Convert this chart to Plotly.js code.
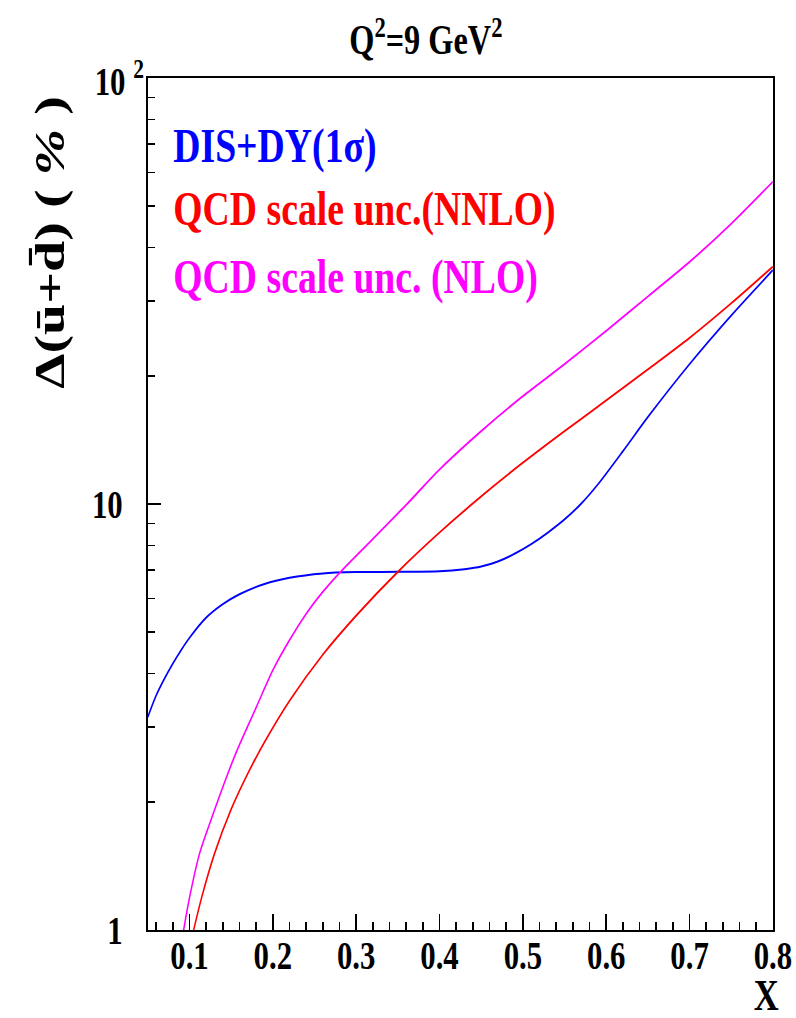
<!DOCTYPE html>
<html>
<head>
<meta charset="utf-8">
<script src="https://cdn.plot.ly/plotly-3.0.1.min.js"></script>
<style>
  html, body { margin: 0; padding: 0; background: #fff; }
  #wrap { width: 796px; height: 1018px; overflow: hidden; }
  /* the figure is laid out wider and squeezed horizontally, giving the tall, narrow serif look */
  #plot { width: 1034px; height: 1018px; transform: scaleX(0.76983); transform-origin: 0 0; }
</style>
</head>
<body>
<div id="wrap"><div id="plot"></div></div>
<script>
// Relative uncertainty of (ubar + dbar) in percent at Q^2 = 9 GeV^2
const xDisDy = [0.05, 0.06, 0.07, 0.08, 0.09, 0.10, 0.12, 0.14, 0.16, 0.19, 0.22, 0.26, 0.30, 0.35, 0.40, 0.43, 0.45, 0.47, 0.49, 0.51, 0.53, 0.55, 0.57, 0.59, 0.62, 0.65, 0.70, 0.75, 0.80];
const errDisDy = [3.16, 3.55, 3.89, 4.22, 4.54, 4.85, 5.41, 5.82, 6.14, 6.49, 6.71, 6.87, 6.92, 6.93, 6.95, 7.03, 7.13, 7.33, 7.64, 8.05, 8.57, 9.20, 10.02, 11.12, 13.3, 16.0, 21.3, 27.7, 35.4];

const xNnlo = [0.095, 0.105, 0.115, 0.13, 0.15, 0.17, 0.19, 0.22, 0.26, 0.30, 0.35, 0.40, 0.45, 0.50, 0.55, 0.60, 0.65, 0.70, 0.75, 0.80];
const errNnlo = [0.82, 1.0, 1.20, 1.51, 1.92, 2.33, 2.76, 3.45, 4.43, 5.47, 6.93, 8.57, 10.42, 12.5, 14.83, 17.5, 20.7, 24.55, 29.6, 36.1];

const xNlo = [0.088, 0.093, 0.10, 0.112, 0.127, 0.145, 0.157, 0.18, 0.20, 0.22, 0.241, 0.26, 0.28, 0.32, 0.361, 0.40, 0.45, 0.50, 0.55, 0.60, 0.65, 0.70, 0.75, 0.80];
const errNlo = [0.875, 1.0, 1.19, 1.51, 1.84, 2.30, 2.64, 3.33, 4.07, 4.79, 5.56, 6.22, 6.89, 8.28, 10.0, 12.05, 14.83, 17.91, 21.3, 25.5, 30.7, 37.0, 45.5, 57.1];

const seriesNames = ['DIS+DY(1σ)', 'QCD scale unc.(NNLO)', 'QCD scale unc. (NLO)'];
const seriesColors = ['#0000ff', '#ff0000', '#ff00ff'];

const xTickVals = [0.1, 0.2, 0.3, 0.4, 0.5, 0.6, 0.7, 0.8];
const xTickText = ['0.1', '0.2', '0.3', '0.4', '0.5', '0.6', '0.7', '0.8'];
const yTickVals = [1, 10, 100];
const yTickText = ['1', '10', ''];
const yMinorVals = [2, 3, 4, 5, 6, 7, 8, 9, 20, 30, 40, 50, 60, 70, 80, 90];

const serif = 'Liberation Serif, Times New Roman, serif';

const xs = [xDisDy, xNnlo, xNlo];
const ys = [errDisDy, errNnlo, errNlo];
const traces = xs.map((x, i) => ({
  x: x, y: ys[i], type: 'scatter', mode: 'lines', name: seriesNames[i],
  line: { color: seriesColors[i], width: 2, shape: 'spline', smoothing: 0.8 },
  showlegend: false
}));

// legend-style labels inside the frame
const legendY = [0.921, 0.847, 0.767];
const annotations = seriesNames.map((t, i) => ({
  text: t, xref: 'paper', yref: 'paper', x: 0.038, y: legendY[i],
  xanchor: 'left', yanchor: 'middle', showarrow: false,
  font: { family: serif, size: 49, color: seriesColors[i], weight: 700 }
}));

annotations.push({
  text: 'Δ(ū+d̄) ( <i>%</i> )', textangle: -90,
  xref: 'paper', yref: 'paper', x: -0.158, y: 0.8075,
  xanchor: 'center', yanchor: 'middle', showarrow: false,
  font: { family: serif, size: 56, color: '#000', weight: 700 }
});
annotations.push({
  text: 'X', xref: 'paper', yref: 'paper', x: 0.989, y: -0.0763,
  xanchor: 'center', yanchor: 'middle', showarrow: false,
  font: { family: serif, size: 45, color: '#000', weight: 700 }
});
annotations.push({
  text: '10 <sup>2</sup>', xref: 'paper', yref: 'y', x: -0.004, y: Math.log10(yTickVals[2]),
  xanchor: 'right', yanchor: 'middle', showarrow: false,
  font: { family: serif, size: 40, color: '#000', weight: 700 }
});

const layout = {
  width: 1034, height: 1018,
  margin: { l: 192, r: 30, t: 78, b: 88 },
  paper_bgcolor: '#fff', plot_bgcolor: '#fff',
  title: {
    text: 'Q<sup>2</sup>=9 GeV<sup>2</sup>',
    xref: 'container', yref: 'container', x: 0.535, y: 0.961,
    xanchor: 'center', yanchor: 'middle',
    font: { family: serif, size: 42, color: '#000', weight: 700 }
  },
  xaxis: {
    range: [0.05, 0.8], showgrid: false, zeroline: false,
    showline: true, linecolor: '#000', linewidth: 2, mirror: true,
    tickmode: 'array', tickvals: xTickVals, ticktext: xTickText,
    ticks: 'inside', ticklen: 16, tickwidth: 2, tickcolor: '#000',
    ticklabelstandoff: -11,
    tickfont: { family: serif, size: 40, color: '#000', weight: 700 },
    minor: { tick0: 0, dtick: 0.02, ticks: 'inside', ticklen: 8, tickwidth: 2, tickcolor: '#000', showgrid: false },
    automargin: false
  },
  yaxis: {
    type: 'log', range: [0, 2], showgrid: false, zeroline: false,
    showline: true, linecolor: '#000', linewidth: 2.6, mirror: true,
    tickmode: 'array', tickvals: yTickVals, ticktext: yTickText,
    ticks: 'inside', ticklen: 17, tickwidth: 1.5, tickcolor: '#000',
    ticklabelstandoff: 22,
    tickfont: { family: serif, size: 40, color: '#000', weight: 700 },
    minor: { tickmode: 'array', tickvals: yMinorVals, ticks: 'inside', ticklen: 9, tickwidth: 1.5, tickcolor: '#000', showgrid: false },
    automargin: false
  },
  annotations: annotations,
  showlegend: false
};

Plotly.newPlot('plot', traces, layout, { staticPlot: true, displayModeBar: false });
</script>
</body>
</html>
